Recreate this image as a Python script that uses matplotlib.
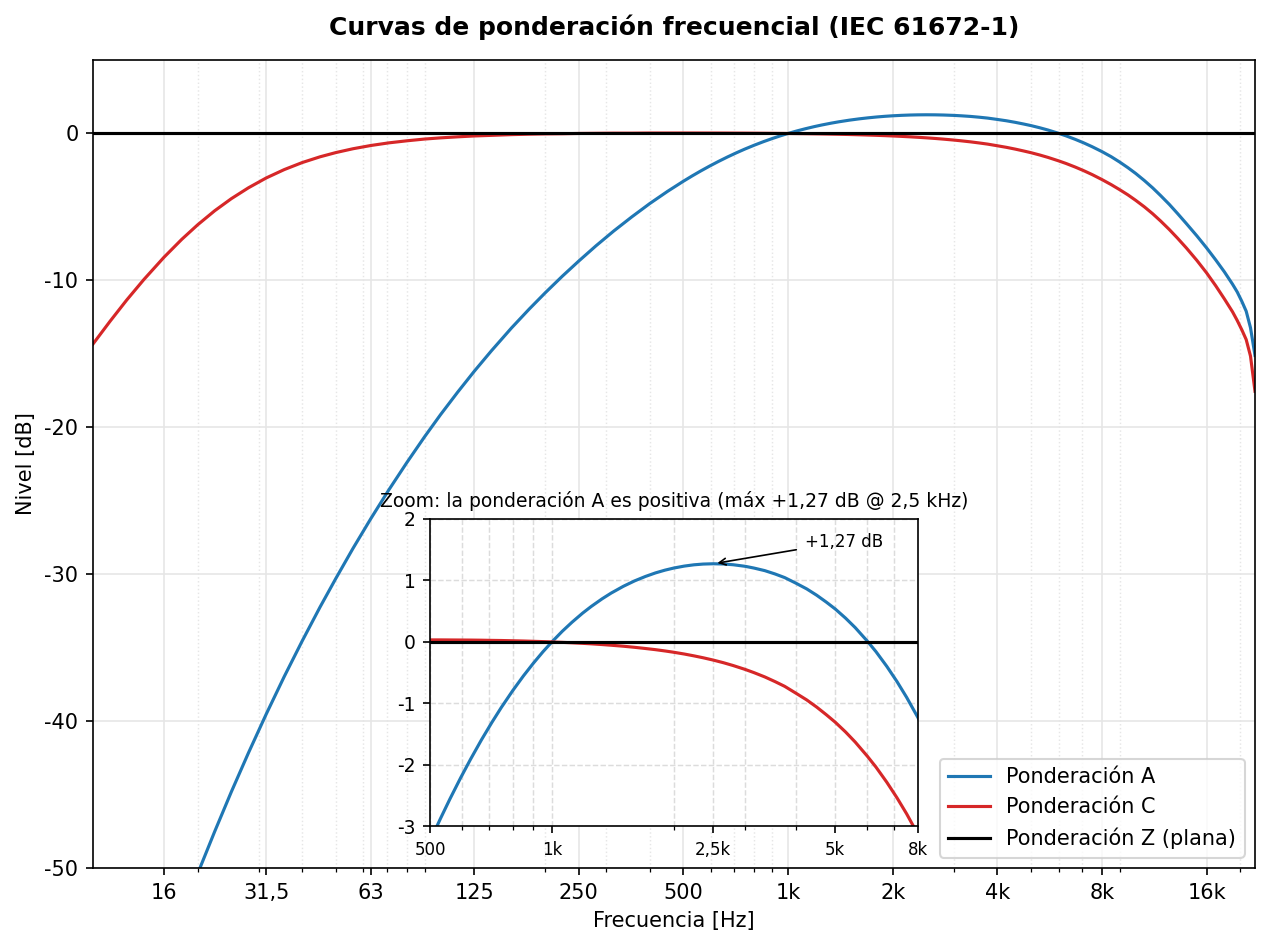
import numpy as np
import matplotlib
matplotlib.use("Agg")
import matplotlib.pyplot as plt
from matplotlib.ticker import FixedLocator, FixedFormatter, LogLocator, NullFormatter

# ---------------- data ----------------
# low band (1/6 octave)
freq_low_hz = [10, 11.2, 12.5, 14, 16, 18, 20, 22.4, 25, 28, 31.5, 35.5, 40, 45, 50, 56, 63,
               71, 80, 90, 100, 112, 125, 140, 160, 180, 200, 224, 250, 280, 315, 355, 400, 450]
a_low_db = [-70.43, -66.92, -63.59, -60.24, -56.43, -53.19, -50.39, -47.51, -44.82, -42.17,
            -39.53, -36.97, -34.54, -32.24, -30.28, -28.24, -26.22, -24.26, -22.40, -20.64,
            -19.14, -17.61, -16.19, -14.80, -13.24, -11.95, -10.85, -9.72, -8.68, -7.65,
            -6.64, -5.68, -4.77, -3.94]
c_low_db = [-14.33, -12.78, -11.34, -9.95, -8.43, -7.21, -6.22, -5.26, -4.44, -3.70,
            -3.03, -2.46, -1.98, -1.59, -1.30, -1.04, -0.82, -0.64, -0.50, -0.38,
            -0.30, -0.23, -0.17, -0.13, -0.08, -0.05, -0.03, -0.02, 0.00, 0.01,
            0.02, 0.02, 0.03, 0.03]

# mid band (1/12 octave, zoomed region)
freq_mid_hz = [500, 530, 560, 595, 630, 670, 710, 750, 800, 850, 900, 950, 1000, 1060, 1120,
               1190, 1250, 1330, 1400, 1500, 1600, 1700, 1800, 1900, 2000, 2120, 2240, 2360,
               2500, 2650, 2800, 3000, 3150, 3350, 3550, 3750, 4000, 4250, 4500, 4750, 5000,
               5300, 5600, 6000, 6300, 6700, 7100, 7500, 8000]
a_mid_db = [-3.248, -2.886, -2.559, -2.216, -1.909, -1.595, -1.317, -1.068, -0.795, -0.556,
            -0.347, -0.162, 0.000, 0.171, 0.318, 0.467, 0.576, 0.701, 0.794, 0.904,
            0.993, 1.064, 1.122, 1.167, 1.202, 1.233, 1.254, 1.266, 1.271, 1.267,
            1.255, 1.229, 1.201, 1.159, 1.105, 1.046, 0.954, 0.862, 0.758, 0.647,
            0.534, 0.386, 0.231, 0.010, -0.160, -0.400, -0.648, -0.905, -1.236]
c_mid_db = [0.031, 0.031, 0.030, 0.029, 0.028, 0.026, 0.023, 0.021, 0.017, 0.013, 0.008, 0.003,
            -0.002, -0.009, -0.016, -0.025, -0.033, -0.045, -0.056, -0.072, -0.090, -0.109,
            -0.128, -0.149, -0.171, -0.199, -0.229, -0.260, -0.298, -0.341, -0.387, -0.451,
            -0.502, -0.572, -0.648, -0.725, -0.838, -0.946, -1.064, -1.187, -1.310, -1.468,
            -1.633, -1.864, -2.040, -2.287, -2.541, -2.802, -3.139]

# high band
freq_high_hz = [8500, 9000, 9500, 10000, 10600, 11200, 11800, 12500, 13200, 14000, 15000,
                16000, 17000, 18000, 19000, 19600, 20200, 20800, 21400, 22050]
a_high_db = [-1.58, -1.95, -2.33, -2.72, -3.21, -3.71, -4.23, -4.83, -5.45, -6.14, -6.97,
             -7.79, -8.61, -9.42, -10.26, -10.79, -11.42, -12.10, -13.22, -15.11]
c_high_db = [-3.48, -3.83, -4.18, -4.55, -5.00, -5.47, -5.96, -6.54, -7.13, -7.80, -8.64,
             -9.49, -10.37, -11.26, -12.14, -12.73, -13.36, -14.03, -15.15, -17.55]

series_labels = ["Ponderación A", "Ponderación C", "Ponderación Z (plana)"]
series_colors = ["#1f77b4", "#d62728", "black"]

main_xticks = [16, 31.5, 63, 125, 250, 500, 1000, 2000, 4000, 8000, 16000]
main_xticklabels = ["16", "31,5", "63", "125", "250", "500", "1k", "2k", "4k", "8k", "16k"]
main_yticks = [0, -10, -20, -30, -40, -50]
main_yticklabels = ["0", "-10", "-20", "-30", "-40", "-50"]

inset_xticks = [500, 1000, 2500, 5000, 8000]
inset_xticklabels = ["500", "1k", "2,5k", "5k", "8k"]
inset_yticks = [-3, -2, -1, 0, 1, 2]
inset_yticklabels = ["-3", "-2", "-1", "0", "1", "2"]

# assembled series
f = np.array(freq_low_hz + freq_mid_hz + freq_high_hz, dtype=float)
a_db = np.array(a_low_db + a_mid_db + a_high_db)
c_db = np.array(c_low_db + c_mid_db + c_high_db)
z_db = np.zeros_like(f)

# ---------------- figure ----------------
W, H, DPI = 1270, 948, 150
fig = plt.figure(figsize=(W / DPI, H / DPI), dpi=DPI)
ax = fig.add_axes([93 / W, 80 / H, 1162 / W, 808 / H])

curves = [a_db, c_db, z_db]
for y, lab, col in zip(curves, series_labels, series_colors):
    ax.plot(f, y, color=col, lw=1.5, label=lab)

ax.set_xscale("log")
ax.set_xlim(10, 22050)
ax.set_ylim(-50, 5)
ax.xaxis.set_major_locator(FixedLocator(main_xticks))
ax.xaxis.set_major_formatter(FixedFormatter(main_xticklabels))
ax.xaxis.set_minor_locator(LogLocator(base=10, subs=np.arange(2, 10)))
ax.xaxis.set_minor_formatter(NullFormatter())
ax.set_yticks(main_yticks)
ax.set_yticklabels(main_yticklabels)
ax.grid(True, which="major", color="#e6e6e6", lw=0.8)
ax.grid(True, which="minor", axis="x", ls=":", color="#e6e6e6", lw=0.7)
ax.set_axisbelow(True)
ax.set_xlabel("Frecuencia [Hz]", fontsize=10)
ax.set_ylabel("Nivel [dB]", fontsize=10)
ax.set_title("Curvas de ponderación frecuencial (IEC 61672-1)", fontsize=12,
             fontweight="bold", pad=12)
ax.legend(loc="lower right", fontsize=10)

# ---------------- inset ----------------
axi = fig.add_axes([430 / W, 122 / H, 488 / W, 307 / H])
for y, col in zip(curves, series_colors):
    axi.plot(f, y, color=col, lw=1.5)
axi.set_xscale("log")
axi.set_xlim(500, 8000)
axi.set_ylim(-3, 2)
axi.xaxis.set_major_locator(FixedLocator(inset_xticks))
axi.xaxis.set_major_formatter(FixedFormatter(inset_xticklabels))
axi.xaxis.set_minor_locator(LogLocator(base=10, subs=np.arange(2, 10)))
axi.xaxis.set_minor_formatter(NullFormatter())
axi.set_yticks(inset_yticks)
axi.set_yticklabels(inset_yticklabels)
axi.tick_params(axis="x", labelsize=8)
axi.tick_params(axis="y", labelsize=9)
axi.grid(True, which="both", ls="--", color="#dcdcdc", lw=0.7)
axi.set_axisbelow(True)
axi.set_title("Zoom: la ponderación A es positiva (máx +1,27 dB @ 2,5 kHz)", fontsize=9)

mask = (f >= 500) & (f <= 8000)
ipk = int(np.argmax(np.where(mask, a_db, -np.inf)))
axi.annotate("+1,27 dB", xy=(f[ipk], a_db[ipk]), xytext=(4200, 1.63),
             fontsize=8, ha="left", va="center",
             arrowprops=dict(arrowstyle="->", color="black", lw=0.8))

fig.savefig("out.png", dpi=DPI)
